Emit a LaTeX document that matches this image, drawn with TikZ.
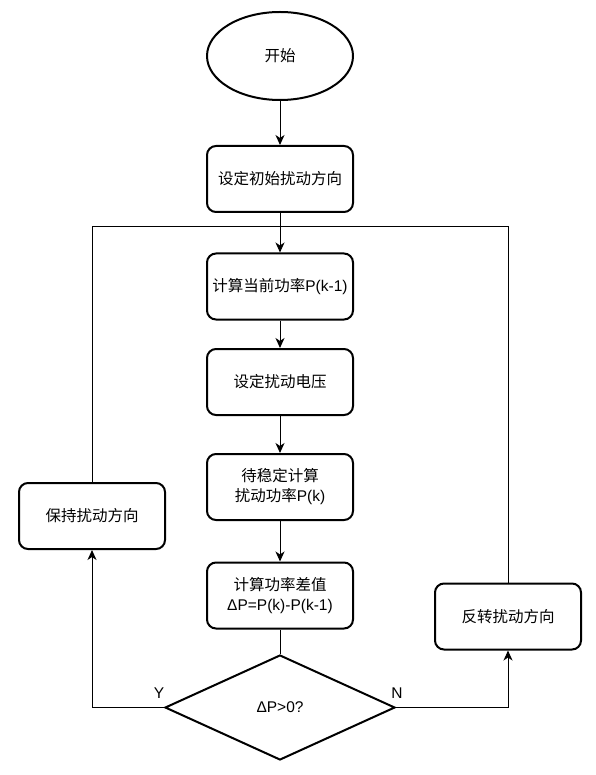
\documentclass[tikz,border=0pt]{standalone}
\usepackage{fontspec}
\setmainfont{Liberation Sans}
\newfontfamily\cjk{Noto Sans CJK SC}
\usetikzlibrary{arrows.meta,shapes.geometric}
\begin{document}
\begin{tikzpicture}[x=1pt,y=-1pt,
  box/.style={draw,line width=2pt,rounded corners=9pt,minimum width=146pt,minimum height=66pt,align=center,inner sep=0pt,font=\fontsize{15.5pt}{20pt}\selectfont},
  conn/.style={line width=1pt,-{Stealth[length=10pt,width=9pt,inset=3pt]}},
  plain/.style={line width=1pt},
  lbl/.style={font=\fontsize{15.5pt}{18pt}\selectfont,inner sep=0pt}]
\useasboundingbox (0,0) rectangle (595,775);
\node[draw,ellipse,line width=2pt,minimum width=146pt,minimum height=88pt,inner sep=0pt,font=\fontsize{15.5pt}{18pt}\selectfont] (start) at (280,56) {\cjk 开始};
\node[box] (b1) at (280,179) {\cjk 设定初始扰动方向};
\node[box] (b2) at (280,286.5) {{\cjk 计算当前功率}P(k-1)};
\node[box] (b3) at (280,382) {\cjk 设定扰动电压};
\node[box] (b4) at (280,487) {{\cjk 待稳定计算}\\{\cjk 扰动功率}P(k)};
\node[box] (b5) at (280,595.5) {{\cjk 计算功率差值}\\ΔP=P(k)-P(k-1)};
\node[draw,diamond,line width=2pt,minimum width=230pt,minimum height=105pt,aspect=2.2,inner sep=0pt,font=\fontsize{15.5pt}{18pt}\selectfont] (d) at (280,707.5) {ΔP>0?};
\node[box] (keep) at (92,516) {\cjk 保持扰动方向};
\node[box] (rev) at (508,616.5) {\cjk 反转扰动方向};
\coordinate (jn) at (280,227);
\draw[conn] (start) -- (b1);
\draw[plain] (b1) -- (jn);
\draw[conn] (jn) -- (b2);
\draw[conn] (b2) -- (b3);
\draw[conn] (b3) -- (b4);
\draw[conn] (b4) -- (b5);
\draw[plain] (b5) -- (d);
\draw[conn] (d.west) -| (keep.south);
\draw[conn] (d.east) -| (rev.south);
\draw[plain] (keep.north) |- (jn);
\draw[plain] (rev.north) |- (jn);
\node[lbl] (y) at (159,693) {Y};
\node[lbl] (n) at (397,693) {N};
\end{tikzpicture}
\end{document}
